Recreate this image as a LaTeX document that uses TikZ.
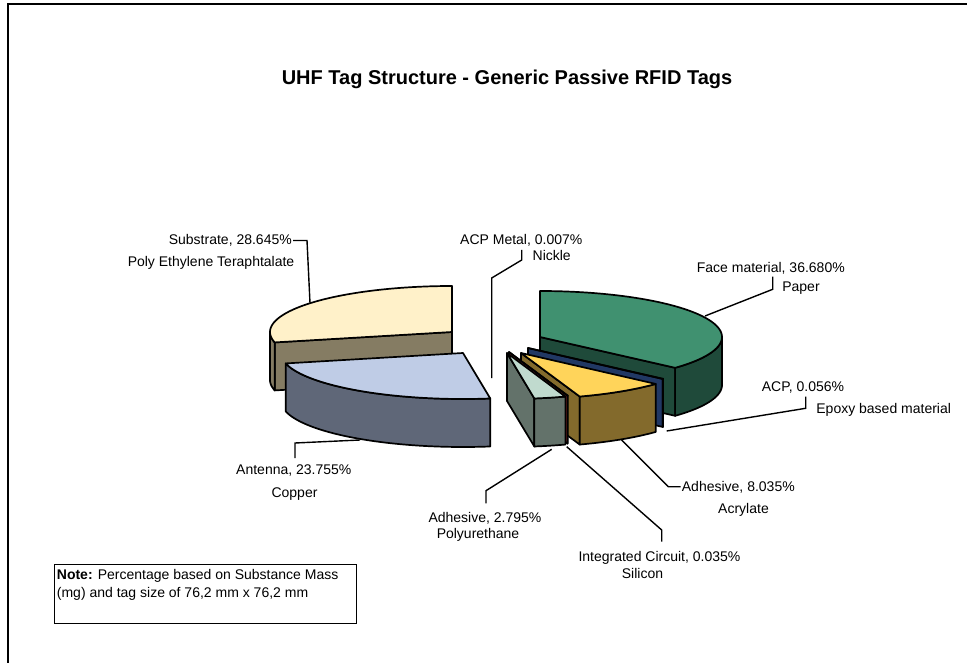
\documentclass[tikz,border=0pt]{standalone}
\usepackage{fontspec}
\setmainfont{Liberation Sans}
\definecolor{subtop}{RGB}{255,241,201}
\definecolor{subside}{RGB}{133,124,99}
\definecolor{anttop}{RGB}{191,204,230}
\definecolor{antside}{RGB}{95,103,120}
\definecolor{greentop}{RGB}{64,145,112}
\definecolor{greenside}{RGB}{31,74,58}
\definecolor{acpblue}{RGB}{33,56,100}
\definecolor{yellowtop}{RGB}{255,212,90}
\definecolor{olive}{RGB}{131,106,44}
\definecolor{icred}{RGB}{165,50,50}
\definecolor{putop}{RGB}{192,218,206}
\definecolor{pugray}{RGB}{99,114,106}
\def\RX{182}
\def\RY{46}
\def\HH{48}
% top face of a sector: cx cy start end colour
\newcommand\sectortop[5]{%
  \filldraw[slice, fill=#5] (#1,#2) -- plot[domain=#3:#4,samples=80] ({#1+\RX*cos(\x)},{#2+\RY*sin(\x)}) -- cycle;}
% outer curved side: cx cy start end colour
\newcommand\sectorside[5]{%
  \filldraw[slice, fill=#5] plot[domain=#3:#4,samples=80] ({#1+\RX*cos(\x)},{#2+\RY*sin(\x)}) -- plot[domain=#4:#3,samples=80] ({#1+\RX*cos(\x)},{#2+\HH+\RY*sin(\x)}) -- cycle;}
% radial cut face: cx cy angle colour
\newcommand\sectorcut[4]{%
  \filldraw[slice, fill=#4] (#1,#2) -- ({#1+\RX*cos(#3)},{#2+\RY*sin(#3)}) -- ({#1+\RX*cos(#3)},{#2+\HH+\RY*sin(#3)}) -- (#1,{#2+\HH}) -- cycle;}
\begin{document}
\begin{tikzpicture}[x=1pt,y=-1pt,
  slice/.style={draw=black,line width=1.7pt,line join=round},
  leader/.style={draw=black,line width=1.4pt},
  lbl/.style={inner sep=0pt,font=\fontsize{14}{17}\selectfont},
  ttl/.style={inner sep=0pt,font=\fontsize{20}{24}\selectfont\bfseries}]
\useasboundingbox (0,0) rectangle (967,663);
\fill[white] (0,0) rectangle (967,663);
\draw[line width=2pt] (967,4) -- (8,4) -- (8,663);

% title
\node[ttl, anchor=base] (title) at (507,85) {UHF Tag Structure - Generic Passive RFID Tags};

% ---- pie slices (back to front) ----
% Substrate
\sectorcut{452}{332}{166.9}{subside}
\sectorside{452}{332}{166.9}{180}{subside}
\sectortop{452}{332}{166.9}{270}{subtop}
% Face material
\sectorcut{540}{337}{42.05}{greenside}
\sectorside{540}{337}{0}{42.05}{greenside}
\sectortop{540}{337}{-90}{42.05}{greentop}
% ACP
\sectorcut{528}{348}{42.25}{acpblue}
\sectorside{528}{348}{42.05}{42.25}{acpblue}
\sectortop{528}{348}{42.05}{42.25}{acpblue}
% Adhesive (acrylate)
\sectorcut{521}{353}{71.18}{olive}
\sectorside{521}{353}{42.25}{71.18}{olive}
\sectortop{521}{353}{42.25}{71.18}{yellowtop}
% Integrated circuit
\sectorcut{509}{352}{71.30}{icred}
\sectorside{509}{352}{71.18}{71.30}{icred}
\sectortop{509}{352}{71.18}{71.30}{icred}
% Adhesive (polyurethane)
\sectorcut{507}{353}{81.36}{pugray}
\sectorside{507}{353}{71.30}{81.36}{pugray}
\sectortop{507}{353}{71.30}{81.36}{putop}
% Antenna
\sectorside{463}{353}{81.39}{166.9}{antside}
\sectortop{463}{353}{81.39}{166.9}{anttop}

% ---- labels ----
\node[lbl, anchor=base east] (sub1) at (292,245) {Substrate, 28.645\%};
\node[lbl, anchor=base east] (sub2) at (294.5,266.5) {Poly Ethylene Teraphtalate};
\node[lbl, anchor=base west] (acpm1) at (460,245) {ACP Metal, 0.007\%};
\node[lbl, anchor=base] (acpm2) at (551.7,260.7) {Nickle};
\node[lbl, anchor=base west] (face1) at (696.7,272.3) {Face material, 36.680\%};
\node[lbl, anchor=base] (face2) at (801,291.7) {Paper};
\node[lbl, anchor=base west] (acp1) at (761.7,391.7) {ACP, 0.056\%};
\node[lbl, anchor=base] (acp2) at (883.7,413.5) {Epoxy based material};
\node[lbl, anchor=base west] (adh1) at (681.7,491.7) {Adhesive, 8.035\%};
\node[lbl, anchor=base] (adh2) at (743.5,513) {Acrylate};
\node[lbl, anchor=base west] (ic1) at (578.3,561) {Integrated Circuit, 0.035\%};
\node[lbl, anchor=base] (ic2) at (642.5,578.3) {Silicon};
\node[lbl, anchor=base west] (pu1) at (428.3,522.7) {Adhesive, 2.795\%};
\node[lbl, anchor=base] (pu2) at (478,538.3) {Polyurethane};
\node[lbl, anchor=base west] (ant1) at (236,474) {Antenna, 23.755\%};
\node[lbl, anchor=base] (ant2) at (294.5,497.5) {Copper};

% ---- leader lines ----
\coordinate (subA) at (293,240.5);
\coordinate (subB) at (307,240.5);
\coordinate (subC) at (310,303);
\draw[leader] (subA) -- (subB) -- (subC);
\coordinate (acpmA) at (521.7,250);
\coordinate (acpmB) at (521.7,260);
\coordinate (acpmC) at (491.7,278);
\coordinate (acpmD) at (491.7,378);
\draw[leader] (acpmA) -- (acpmB) -- (acpmC) -- (acpmD);
\coordinate (faceA) at (772.7,276.7);
\coordinate (faceB) at (772.7,289.3);
\coordinate (faceC) at (705,316);
\draw[leader] (faceA) -- (faceB) -- (faceC);
\coordinate (acpA) at (805.7,396.7);
\coordinate (acpB) at (805.7,408.3);
\coordinate (acpC) at (666.7,431);
\draw[leader] (acpA) -- (acpB) -- (acpC);
\coordinate (adhA) at (680.5,486.7);
\coordinate (adhB) at (668.3,486.7);
\coordinate (adhC) at (621.7,440);
\draw[leader] (adhA) -- (adhB) -- (adhC);
\coordinate (icA) at (661.7,541.7);
\coordinate (icB) at (661.7,530);
\coordinate (icC) at (566.7,446.7);
\draw[leader] (icA) -- (icB) -- (icC);
\coordinate (puA) at (486,503.3);
\coordinate (puB) at (486,490.7);
\coordinate (puC) at (551.7,449.3);
\draw[leader] (puA) -- (puB) -- (puC);
\coordinate (antA) at (295,458);
\coordinate (antB) at (295,443);
\coordinate (antC) at (360,440);
\draw[leader] (antA) -- (antB) -- (antC);

% ---- note ----
\node[draw=black, line width=1.4pt, anchor=north west, minimum width=302pt, minimum height=59pt, inner sep=0pt] (notebox) at (54,564) {};
\node[lbl, anchor=base west] (note1) at (56.7,579) {\textbf{Note:} Percentage based on Substance Mass};
\node[lbl, anchor=base west] (note2) at (56.7,597.3) {(mg) and tag size of 76,2 mm x 76,2 mm};
\end{tikzpicture}
\end{document}
